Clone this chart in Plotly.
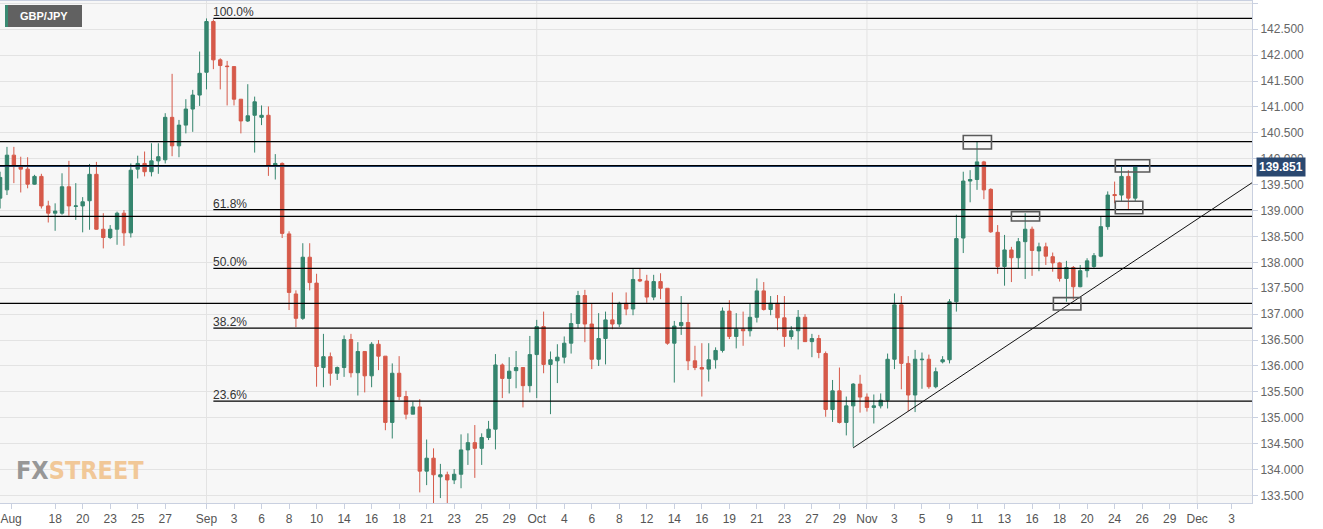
import plotly.graph_objects as go

# ---------------- data ----------------
candle_idx = list(range(166))

opens = [139.24, 139.40, 140.07, 139.85, 139.80, 139.51, 139.66, 139.09, 138.95, 138.95,
         139.46, 139.08, 139.09, 139.19, 139.70, 138.64, 138.48, 138.64, 138.95, 138.57,
         139.80, 139.91, 139.75, 139.96, 139.98, 140.80, 140.25, 140.65, 140.96, 141.23,
         141.67, 142.65, 141.91, 141.79, 141.78, 141.15, 140.73, 140.84, 140.80, 140.84,
         139.88, 139.91, 138.55, 137.39, 136.92, 138.10, 137.60, 135.97, 136.18, 135.86,
         135.97, 136.51, 135.87, 136.28, 135.81, 136.42, 136.19, 134.91, 135.86, 135.41,
         135.07, 135.21, 133.97, 134.22, 133.86, 133.90, 133.80, 133.91, 134.38, 134.52,
         134.41, 134.62, 134.78, 136.02, 135.76, 135.91, 135.97, 135.62, 136.22, 136.76,
         136.03, 136.10, 136.17, 136.44, 136.82, 137.36, 136.81, 136.13, 136.53, 136.89,
         136.81, 137.21, 137.10, 137.67, 137.64, 137.33, 137.63, 137.50, 136.44, 136.78,
         136.84, 136.10, 135.97, 135.94, 136.12, 136.30, 137.06, 136.57, 136.71, 136.68,
         136.94, 137.45, 137.09, 137.21, 136.93, 136.57, 136.68, 136.94, 136.47, 136.53,
         136.24, 135.16, 135.52, 134.91, 135.23, 135.65, 135.40, 135.20, 135.23, 135.34,
         136.13, 137.18, 136.05, 135.44, 136.12, 136.13, 135.60, 136.08, 136.12, 137.24,
         138.47, 139.57, 139.60, 139.94, 139.41, 138.58, 137.92, 138.24, 138.09, 138.40,
         138.64, 138.22, 138.30, 138.11, 137.99, 137.69, 137.90, 137.53, 137.84, 137.92,
         138.12, 138.69, 139.31, 139.30, 139.66, 139.24]

highs = [139.75, 140.23, 140.23, 140.04, 140.03, 139.69, 139.71, 139.19, 139.14, 139.72,
         139.96, 139.53, 139.26, 139.90, 139.94, 138.95, 138.72, 138.98, 139.01, 139.91,
         140.06, 140.14, 140.30, 140.30, 140.88, 141.64, 140.75, 141.15, 141.33, 142.07,
         142.71, 142.69, 141.94, 141.89, 141.78, 141.15, 141.44, 141.20, 141.03, 141.01,
         140.09, 139.93, 138.60, 137.46, 138.37, 138.37, 137.78, 136.62, 136.26, 135.99,
         136.59, 136.62, 136.46, 136.28, 136.46, 136.50, 136.19, 136.05, 136.19, 135.52,
         135.31, 135.36, 134.58, 134.41, 134.11, 133.96, 134.01, 134.68, 134.70, 134.86,
         134.70, 134.94, 136.23, 136.05, 136.17, 136.29, 135.97, 136.58, 136.89, 137.05,
         136.28, 136.42, 136.57, 137.02, 137.45, 137.47, 137.20, 137.02, 137.05, 137.42,
         137.24, 137.42, 137.87, 137.89, 137.76, 137.76, 137.79, 137.50, 136.87, 137.35,
         137.20, 136.39, 136.44, 136.44, 136.36, 137.13, 137.27, 137.02, 137.05, 137.21,
         137.69, 137.62, 137.35, 137.37, 137.35, 136.77, 137.08, 137.00, 136.62, 136.60,
         136.28, 135.73, 135.97, 135.41, 135.67, 135.83, 135.47, 135.45, 135.47, 136.24,
         137.40, 137.35, 136.19, 136.31, 136.26, 136.22, 135.97, 136.19, 137.29, 138.92,
         139.75, 139.78, 140.33, 139.96, 139.43, 138.72, 138.53, 138.30, 138.47, 138.95,
         138.69, 138.38, 138.38, 138.19, 138.01, 138.03, 137.93, 137.95, 138.08, 138.18,
         138.88, 139.37, 139.56, 139.85, 139.78, 139.87]

lows = [139.04, 139.30, 139.53, 139.35, 139.43, 139.50, 139.04, 138.77, 138.61, 138.92,
        138.90, 138.82, 138.58, 138.63, 138.63, 138.27, 138.45, 138.34, 138.32, 138.48,
        139.62, 139.66, 139.66, 139.71, 139.91, 140.05, 140.03, 140.49, 140.52, 141.02,
        141.34, 141.73, 141.34, 141.03, 141.03, 140.49, 140.71, 140.12, 140.65, 139.67,
        139.60, 138.47, 137.08, 136.75, 136.89, 137.46, 135.60, 135.59, 135.62, 135.73,
        135.79, 135.78, 135.43, 135.49, 135.59, 135.92, 134.76, 134.60, 135.34, 134.97,
        135.07, 133.56, 133.70, 133.06, 133.45, 133.30, 133.72, 133.64, 134.09, 133.84,
        134.09, 134.57, 134.39, 135.38, 135.47, 135.57, 135.20, 135.49, 135.38, 135.86,
        135.07, 135.67, 136.05, 136.24, 136.73, 136.46, 135.94, 136.00, 136.03, 136.71,
        136.75, 136.98, 136.98, 137.62, 137.22, 137.27, 137.29, 136.41, 135.68, 136.60,
        135.92, 135.92, 135.41, 135.70, 135.95, 136.26, 136.52, 136.34, 136.39, 136.57,
        136.84, 137.07, 136.98, 136.69, 136.37, 136.51, 136.32, 136.47, 136.17, 136.15,
        135.02, 134.92, 134.89, 134.66, 134.44, 135.10, 135.12, 134.89, 135.18, 135.18,
        135.94, 135.55, 135.13, 135.11, 135.56, 135.56, 135.57, 136.05, 136.05, 137.05,
        138.18, 139.16, 139.40, 139.22, 138.57, 137.78, 137.55, 137.62, 137.89, 137.68,
        137.74, 137.83, 137.95, 137.82, 137.63, 137.24, 137.28, 137.52, 137.71, 137.89,
        138.10, 138.63, 139.14, 139.17, 139.01, 139.17]

closes = [139.64, 140.07, 139.85, 139.80, 139.51, 139.66, 139.09, 138.95, 138.99, 139.46,
          139.09, 139.09, 139.17, 139.70, 138.64, 138.48, 138.64, 138.95, 138.57, 139.78,
          139.91, 139.75, 139.96, 140.04, 140.80, 140.25, 140.65, 140.96, 141.23, 141.65,
          142.65, 141.91, 141.80, 141.78, 141.15, 140.73, 140.83, 141.10, 140.84, 139.88,
          139.91, 138.56, 137.42, 136.92, 138.10, 137.61, 135.99, 136.18, 135.86, 135.97,
          136.51, 135.87, 136.28, 135.81, 136.42, 136.19, 134.91, 135.86, 135.41, 135.07,
          135.21, 133.97, 134.22, 133.90, 133.90, 133.80, 133.91, 134.38, 134.52, 134.41,
          134.62, 134.78, 136.02, 135.76, 135.90, 135.97, 135.62, 136.22, 136.76, 136.03,
          136.12, 136.17, 136.44, 136.82, 137.36, 136.81, 136.13, 136.53, 136.89, 136.81,
          137.21, 137.10, 137.67, 137.64, 137.33, 137.63, 137.50, 136.44, 136.77, 136.84,
          136.10, 135.97, 135.94, 136.12, 136.30, 137.06, 136.57, 136.71, 136.68, 136.94,
          137.45, 137.09, 137.21, 136.93, 136.57, 136.68, 136.94, 136.47, 136.53, 136.26,
          135.16, 135.52, 134.91, 135.23, 135.65, 135.40, 135.20, 135.23, 135.34, 136.13,
          137.18, 136.05, 135.44, 136.13, 136.13, 135.60, 135.89, 136.12, 137.24, 138.46,
          139.57, 139.60, 139.94, 139.40, 138.59, 137.92, 138.24, 138.09, 138.40, 138.64,
          138.23, 138.30, 138.12, 137.99, 137.69, 137.90, 137.53, 137.84, 138.03, 138.13,
          138.69, 139.30, 139.29, 139.66, 139.24, 139.851]

tick_pos = [1.6, 8, 12, 16, 20, 24, 30, 34, 38, 42, 46, 50, 54, 58, 62, 66, 70, 74, 78, 82,
            86, 90, 94, 98, 102, 106, 110, 114, 118, 122, 126, 130, 134, 138, 142, 146, 150,
            154, 158, 162, 166, 170, 174, 179]
tick_text = ["Aug", "18", "20", "23", "25", "27", "Sep", "3", "6", "8", "10", "14", "16", "18",
             "21", "23", "25", "29", "Oct", "4", "6", "8", "12", "14", "16", "19", "21", "23",
             "27", "29", "Nov", "3", "5", "9", "11", "13", "16", "18", "20", "24", "26", "29",
             "Dec", "3"]
month_pos = [30, 78, 126, 174]

fib_levels = [142.71, 139.02, 137.885, 136.73, 135.32]
fib_labels = ["100.0%", "61.8%", "50.0%", "38.2%", "23.6%"]
fib_start = 31

sr_levels = [140.33, 139.87, 138.89, 137.21]
last_price = 139.851

trend_x = [124, 182]
trend_y = [134.42, 139.54]

# boxes: (x0, x1, y0, y1) in candle index / price
boxes = [(140.0, 144.1, 140.19, 140.45),
         (147.0, 151.1, 138.80, 138.98),
         (162.1, 167.1, 139.745, 139.98),
         (162.1, 166.1, 138.94, 139.18),
         (153.1, 157.1, 137.08, 137.32)]

# ---------------- figure ----------------
W, H = 1323, 529
ML, MR, MT, MB = 0, 71, 1, 26
PW, PH = W - ML - MR, H - MT - MB

GREEN = "#35856e"
RED = "#d65a4a"
FONT = "Liberation Sans, Arial, sans-serif"

fig = go.Figure()
fig.add_trace(go.Candlestick(
    x=candle_idx, open=opens, high=highs, low=lows, close=closes,
    increasing=dict(line=dict(color=GREEN, width=1), fillcolor=GREEN),
    decreasing=dict(line=dict(color=RED, width=1), fillcolor=RED),
    whiskerwidth=0, showlegend=False, hoverinfo="skip",
))

shapes = []
# month gridlines
for m in month_pos:
    shapes.append(dict(type="line", xref="x", yref="paper", x0=m, x1=m, y0=0, y1=1,
                       line=dict(color="#e3e3e3", width=1), layer="below"))
# support / resistance lines
for lv in sr_levels:
    shapes.append(dict(type="line", xref="paper", yref="y", x0=0, x1=1, y0=lv, y1=lv,
                       line=dict(color="#000000", width=1.2)))
# last price line
shapes.append(dict(type="line", xref="paper", yref="y", x0=0, x1=1, y0=last_price, y1=last_price,
                   line=dict(color="#1d3a60", width=1.2)))
# fibonacci lines
fig_x_end = 181.97
for lv in fib_levels:
    shapes.append(dict(type="line", xref="x", yref="y", x0=fib_start, x1=fig_x_end, y0=lv, y1=lv,
                       line=dict(color="#000000", width=1.2)))
# trend line
shapes.append(dict(type="line", xref="x", yref="y", x0=trend_x[0], x1=trend_x[1],
                   y0=trend_y[0], y1=trend_y[1], line=dict(color="#111111", width=1)))
# rectangles
for (x0, x1, y0, y1) in boxes:
    shapes.append(dict(type="rect", xref="x", yref="y", x0=x0, x1=x1, y0=y0, y1=y1,
                       line=dict(color="#5a5a5a", width=1.6), fillcolor="rgba(0,0,0,0)"))
# title box
shapes.append(dict(type="rect", xref="paper", yref="paper",
                   x0=5 / PW, x1=82 / PW, y0=(PH + MT - 27) / PH, y1=(PH + MT - 5) / PH,
                   fillcolor="#616161", line=dict(width=0)))
shapes.append(dict(type="rect", xref="paper", yref="paper",
                   x0=5 / PW, x1=8 / PW, y0=(PH + MT - 27) / PH, y1=(PH + MT - 5) / PH,
                   fillcolor="#3a8a72", line=dict(width=0)))

annotations = []
for lv, lab in zip(fib_levels, fib_labels):
    annotations.append(dict(x=fib_start, y=lv, xref="x", yref="y", text=lab, showarrow=False,
                            xanchor="left", yanchor="bottom", yshift=-3, xshift=-2,
                            font=dict(family=FONT, size=12, color="#333333")))
annotations.append(dict(x=(44) / PW, y=(PH + MT - 16) / PH, xref="paper", yref="paper",
                        text="<b>GBP/JPY</b>", showarrow=False, xanchor="center", yanchor="middle",
                        font=dict(family=FONT, size=11, color="#ffffff")))
annotations.append(dict(x=1.0, y=last_price, xref="paper", yref="y", text="<b>139.851</b>",
                        showarrow=False, xanchor="left", yanchor="middle", xshift=4,
                        bgcolor="#2a4870", borderpad=2,
                        font=dict(family=FONT, size=12, color="#ffffff")))
annotations.append(dict(x=14 / PW, y=(PH + MT - 470) / PH, xref="paper", yref="paper",
                        text="<b><span style='color:#8d8d8d'>FX</span><span style='color:#f1c48e'>STREET</span></b>",
                        showarrow=False, xanchor="left", yanchor="middle",
                        font=dict(family="Liberation Sans Narrow, DejaVu Sans Condensed, sans-serif",
                                  size=25, color="#8d8d8d"), opacity=0.9))

fig.update_layout(
    width=W, height=H,
    margin=dict(l=ML, r=MR, t=MT, b=MB, pad=0),
    paper_bgcolor="#ffffff", plot_bgcolor="#f7f7f7",
    shapes=shapes, annotations=annotations,
    showlegend=False,
    xaxis=dict(range=[-0.015, fig_x_end], tickmode="array", tickvals=tick_pos, ticktext=tick_text,
               showgrid=False, zeroline=False, rangeslider=dict(visible=False),
               ticks="outside", ticklen=5, tickcolor="#c9d0e0", ticklabeloverflow="allow",
               showline=True, linecolor="#c9d0e0", linewidth=1, mirror=True,
               tickfont=dict(family=FONT, size=12, color="#555555")),
    yaxis=dict(range=[133.355, 143.046], side="right", dtick=0.5, tick0=133.5,
               tickformat=".3f", showgrid=True, gridcolor="#e3e3e3", gridwidth=1, zeroline=False,
               ticks="outside", ticklen=5, tickcolor="#c9d0e0",
               showline=True, linecolor="#c9d0e0", linewidth=1, mirror=True,
               tickfont=dict(family=FONT, size=12, color="#666666")),
)

fig.write_html("out.html")
